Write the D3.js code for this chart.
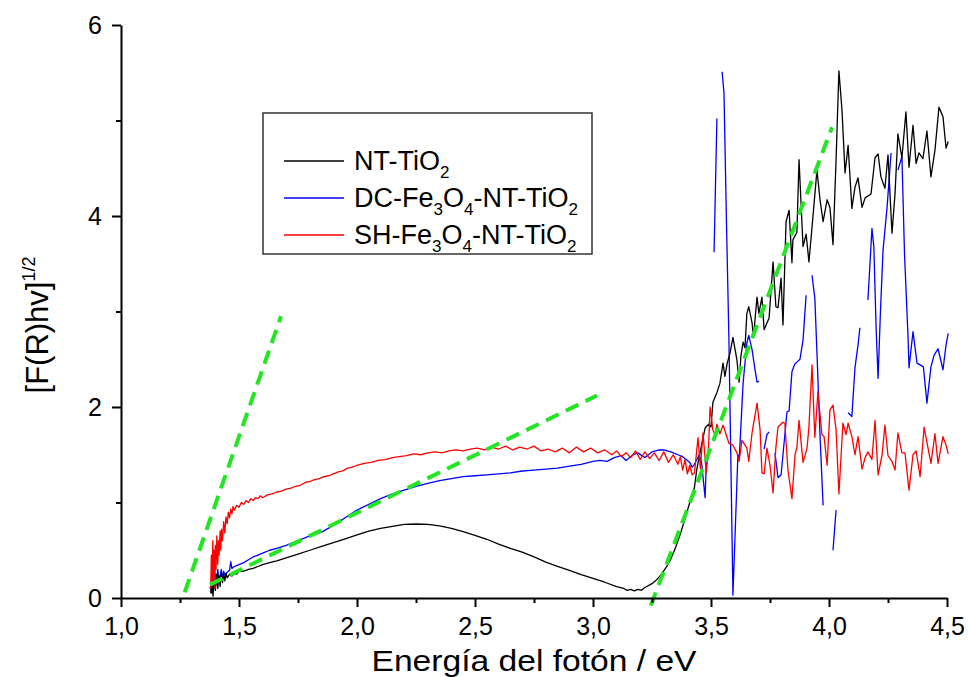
<!DOCTYPE html>
<html>
<head>
<meta charset="utf-8">
<script src="https://cdn.jsdelivr.net/npm/d3@7/dist/d3.min.js"></script>
<style>
  html, body { margin: 0; padding: 0; background: #fff; }
  svg { display: block; }
  text { font-family: "Liberation Sans", Arial, sans-serif; fill: #000; }
</style>
</head>
<body>
<svg id="chart" width="970" height="677"></svg>
<script>
// ---------------- DATA ----------------
const xMajorTicks = [1.0, 1.5, 2.0, 2.5, 3.0, 3.5, 4.0, 4.5];
const xMinorTicks = [1.25, 1.75, 2.25, 2.75, 3.25, 3.75, 4.25];
const yMajorTicks = [0, 2, 4, 6];
const yMinorTicks = [1, 3, 5];
const xTitle = "Energía del fotón / eV";
const yTitleMain = "[F(R)hv]";
const yTitleSup = "1/2";

const seriesNames = ["NT-TiO2", "DC-Fe3O4-NT-TiO2", "SH-Fe3O4-NT-TiO2"];
const legendParts = [
  [["NT-TiO", ""], ["2", "sub"]],
  [["DC-Fe", ""], ["3", "sub"], ["O", ""], ["4", "sub"], ["-NT-TiO", ""], ["2", "sub"]],
  [["SH-Fe", ""], ["3", "sub"], ["O", ""], ["4", "sub"], ["-NT-TiO", ""], ["2", "sub"]]
];
const seriesColors = ["#000000", "#0000ff", "#ff0000"];

// NT-TiO2 (black)
const ntTiO2 = [
  [1.380,0.05],[1.385,0.18],[1.390,0.02],[1.395,0.22],[1.400,0.08],[1.405,0.25],[1.410,0.10],
  [1.415,0.24],[1.420,0.12],[1.425,0.27],[1.430,0.16],[1.435,0.25],[1.440,0.18],[1.445,0.26],
  [1.450,0.21],[1.460,0.25],[1.470,0.23],[1.480,0.26],[1.490,0.25],[1.500,0.28],[1.520,0.28],
  [1.540,0.30],[1.560,0.31],[1.580,0.33],[1.600,0.35],[1.630,0.37],[1.660,0.39],[1.700,0.42],
  [1.750,0.46],[1.800,0.50],[1.850,0.54],[1.900,0.58],[1.950,0.62],[2.000,0.66],[2.050,0.70],
  [2.100,0.73],[2.150,0.75],[2.200,0.77],[2.250,0.775],[2.300,0.77],[2.350,0.755],[2.400,0.73],
  [2.450,0.695],[2.500,0.655],[2.550,0.615],[2.600,0.565],[2.650,0.52],[2.700,0.48],[2.750,0.43],
  [2.800,0.375],[2.850,0.33],[2.900,0.29],[2.950,0.245],[3.000,0.205],[3.050,0.165],[3.100,0.12],
  [3.130,0.10],[3.145,0.08],[3.160,0.09],[3.175,0.075],[3.190,0.09],[3.205,0.08],[3.220,0.11],
  [3.250,0.15],[3.270,0.19],[3.290,0.25],[3.310,0.32],[3.330,0.41],[3.350,0.53],[3.370,0.67],
  [3.390,0.83],[3.410,1.00],[3.430,1.16],[3.440,1.35],[3.460,1.60],[3.475,1.78],[3.490,1.82],
  [3.500,1.79],[3.508,2.05],[3.525,2.15],[3.538,2.25],[3.551,2.46],[3.559,2.32],[3.568,2.45],
  [3.581,2.57],[3.593,2.73],[3.610,2.49],[3.619,2.26],[3.627,2.54],[3.636,2.68],[3.644,2.62],
  [3.652,2.98],[3.660,3.05],[3.674,2.88],[3.680,2.73],[3.695,3.15],[3.703,2.98],[3.716,3.15],
  [3.725,2.81],[3.737,2.88],[3.746,2.93],[3.763,3.52],[3.775,3.05],[3.784,3.04],[3.797,3.35],
  [3.805,2.86],[3.818,3.94],[3.831,4.06],[3.843,3.51],[3.847,3.75],[3.864,3.83],[3.873,4.59],
  [3.890,3.68],[3.903,3.81],[3.915,3.52],[3.928,3.88],[3.949,4.48],[3.962,4.17],[3.975,3.94],
  [3.992,4.17],[4.004,4.09],[4.017,3.70],[4.030,4.59],[4.042,5.52],[4.055,5.11],[4.068,4.45],
  [4.081,4.74],[4.097,4.08],[4.110,4.30],[4.123,4.40],[4.140,4.09],[4.153,4.19],[4.178,4.23],
  [4.195,4.61],[4.208,4.65],[4.220,4.41],[4.237,4.29],[4.250,4.64],[4.267,3.82],[4.280,4.24],
  [4.292,4.86],[4.309,4.61],[4.326,5.09],[4.339,4.51],[4.356,4.95],[4.369,4.55],[4.381,4.66],
  [4.398,4.60],[4.415,4.89],[4.432,4.41],[4.449,4.69],[4.466,5.14],[4.483,5.04],[4.496,4.71],
  [4.505,4.78]
];

// DC-Fe3O4-NT-TiO2 (blue); null = gap in the recorded curve
const dcFe3O4 = [
  [1.377,0.12],[1.385,0.05],[1.390,0.20],[1.395,0.10],[1.400,0.25],[1.405,0.15],[1.410,0.30],
  [1.415,0.18],[1.420,0.22],[1.425,0.30],[1.430,0.20],[1.435,0.28],[1.440,0.24],[1.450,0.27],
  [1.460,0.29],[1.465,0.38],[1.470,0.31],[1.480,0.33],[1.490,0.34],[1.500,0.35],[1.520,0.37],
  [1.540,0.40],[1.560,0.43],[1.580,0.45],[1.600,0.47],[1.630,0.50],[1.660,0.52],[1.700,0.55],
  [1.750,0.60],[1.800,0.65],[1.850,0.69],[1.900,0.76],[1.950,0.84],[2.000,0.92],[2.050,0.98],
  [2.100,1.04],[2.150,1.09],[2.200,1.13],[2.250,1.17],[2.300,1.20],[2.350,1.23],[2.400,1.25],
  [2.450,1.27],[2.500,1.28],[2.550,1.29],[2.600,1.30],[2.650,1.31],[2.700,1.33],[2.750,1.34],
  [2.800,1.35],[2.850,1.36],[2.900,1.38],[2.950,1.40],[3.000,1.43],[3.030,1.44],[3.060,1.43],
  [3.090,1.47],[3.120,1.49],[3.140,1.44],[3.170,1.50],[3.190,1.52],[3.220,1.47],[3.250,1.53],
  [3.280,1.55],[3.300,1.55],[3.330,1.53],[3.360,1.50],[3.380,1.48],[3.400,1.44],[3.410,1.42],
  [3.420,1.37],[3.430,1.40],[3.440,1.45],[3.450,1.50],[3.460,1.42],[3.475,1.05],[3.480,1.40],
  [3.490,1.48], null,
  [3.513,3.62],[3.525,5.02], null,
  [3.547,5.51],[3.555,5.29],[3.565,4.00],[3.576,2.70],[3.585,1.30],[3.593,0.03],[3.604,0.80],
  [3.614,1.50],[3.620,1.47],[3.636,2.25],[3.652,2.67],[3.660,2.75],[3.674,2.60],[3.686,2.40],
  [3.695,2.26],[3.703,2.27], null,
  [3.725,1.56],[3.737,1.71],[3.746,1.74], null,
  [3.771,1.52],[3.784,1.26],[3.797,1.29],[3.805,1.50],[3.822,1.95],[3.831,1.96],[3.843,2.37],
  [3.855,2.45],[3.864,2.47],[3.877,2.50],[3.890,2.70],[3.903,3.17], null,
  [3.928,3.38],[3.940,3.14],[3.950,2.50],[3.962,1.70],[3.975,0.97], null,
  [4.017,0.50],[4.030,0.92], null,
  [4.081,1.94],[4.097,1.90],[4.110,2.41],[4.123,2.65],[4.131,2.83], null,
  [4.165,3.12],[4.182,3.87],[4.190,3.68],[4.200,2.80],[4.208,2.30],[4.218,3.00],[4.229,3.64],
  [4.246,4.09],[4.263,4.66], null,
  [4.292,4.48],[4.309,4.62],[4.320,3.60],[4.335,2.73],[4.339,2.41],[4.356,2.79],[4.373,2.46],
  [4.400,2.42],[4.415,2.04],[4.432,2.42],[4.445,2.54],[4.462,2.61],[4.483,2.39],[4.496,2.65],
  [4.505,2.77]
];

// SH-Fe3O4-NT-TiO2 (red)
const shFe3O4 = [
  [1.380,0.10],[1.383,0.45],[1.386,0.15],[1.389,0.60],[1.392,0.20],[1.395,0.50],[1.398,0.10],
  [1.400,0.55],[1.403,0.30],[1.406,0.65],[1.410,0.35],[1.413,0.60],[1.416,0.45],[1.420,0.70],
  [1.423,0.50],[1.426,0.72],[1.430,0.60],[1.435,0.80],[1.440,0.68],[1.445,0.85],[1.450,0.78],
  [1.455,0.90],[1.460,0.84],[1.465,0.93],[1.470,0.88],[1.475,0.96],[1.480,0.92],[1.490,0.97],
  [1.500,0.95],[1.510,1.00],[1.520,0.98],[1.530,1.02],[1.540,1.00],[1.550,1.04],[1.560,1.02],
  [1.570,1.05],[1.580,1.04],[1.590,1.07],[1.600,1.05],[1.620,1.08],[1.640,1.09],[1.660,1.11],
  [1.680,1.12],[1.700,1.14],[1.720,1.15],[1.740,1.17],[1.760,1.18],[1.780,1.21],[1.800,1.22],
  [1.820,1.24],[1.840,1.25],[1.860,1.27],[1.880,1.28],[1.900,1.30],[1.920,1.32],[1.940,1.33],
  [1.960,1.36],[1.980,1.37],[2.000,1.39],[2.030,1.41],[2.060,1.42],[2.090,1.44],[2.120,1.45],
  [2.150,1.47],[2.180,1.48],[2.210,1.49],[2.240,1.51],[2.270,1.50],[2.300,1.52],[2.330,1.53],
  [2.360,1.52],[2.390,1.54],[2.420,1.55],[2.450,1.54],[2.480,1.56],[2.510,1.57],[2.540,1.55],
  [2.570,1.58],[2.600,1.56],[2.630,1.59],[2.660,1.55],[2.690,1.58],[2.720,1.56],[2.750,1.59],
  [2.780,1.54],[2.810,1.56],[2.840,1.53],[2.870,1.57],[2.900,1.52],[2.930,1.58],[2.960,1.53],
  [2.990,1.57],[3.020,1.52],[3.050,1.55],[3.080,1.50],[3.100,1.54],[3.120,1.48],[3.140,1.52],
  [3.160,1.47],[3.180,1.54],[3.200,1.45],[3.220,1.53],[3.240,1.46],[3.260,1.52],[3.280,1.44],
  [3.300,1.53],[3.320,1.42],[3.340,1.50],[3.360,1.40],[3.370,1.48],[3.380,1.34],[3.390,1.45],
  [3.400,1.30],[3.410,1.39],[3.420,1.29],[3.430,1.31],[3.445,1.68],[3.455,1.35],[3.466,1.73],
  [3.480,1.31],[3.490,1.60],[3.496,2.00],[3.508,1.76],[3.517,1.71],[3.525,1.82],[3.538,1.72],
  [3.551,1.81],[3.563,1.72],[3.576,1.62],[3.593,1.60],[3.610,1.52],[3.619,1.43],[3.631,1.65],
  [3.644,1.60],[3.652,1.57],[3.660,1.43],[3.674,1.73],[3.695,2.04],[3.708,1.76],[3.716,1.31],
  [3.725,1.30],[3.737,1.57],[3.750,1.39],[3.763,1.10],[3.775,1.58],[3.784,1.79],[3.805,1.84],
  [3.813,1.83],[3.826,1.34],[3.843,1.04],[3.856,1.50],[3.864,1.58],[3.873,1.86],[3.890,1.42],
  [3.907,1.57],[3.915,1.79],[3.928,2.44],[3.940,1.68],[3.953,2.16],[3.970,1.71],[3.979,1.69],
  [3.992,1.39],[4.004,1.97],[4.017,2.02],[4.030,1.76],[4.042,1.09],[4.059,1.83],[4.072,1.71],
  [4.081,1.83],[4.097,1.69],[4.110,1.50],[4.123,1.69],[4.140,1.35],[4.153,1.47],[4.165,1.53],
  [4.182,1.45],[4.195,1.86],[4.208,1.29],[4.225,1.50],[4.237,1.81],[4.250,1.49],[4.267,1.43],
  [4.280,1.34],[4.292,1.73],[4.309,1.52],[4.322,1.52],[4.339,1.13],[4.356,1.50],[4.369,1.54],
  [4.386,1.27],[4.403,1.79],[4.415,1.63],[4.432,1.41],[4.449,1.72],[4.462,1.41],[4.483,1.69],
  [4.496,1.60],[4.505,1.51]
];

// Tangent (band-gap) fit lines, green dashed
const fitLines = [
  [[1.270, 0.06], [1.678, 2.95]],
  [[1.377, 0.14], [3.017, 2.12]],
  [[3.245, -0.08], [4.013, 4.93]]
];

// ---------------- CHART ----------------
const svg = d3.select("#chart");
const x = d3.scaleLinear().domain([1.0, 4.5]).range([121, 947]);
const y = d3.scaleLinear().domain([0, 6]).range([598, 25]);

const fontFamily = '"Liberation Sans", Arial, sans-serif';

const line = d3.line()
  .defined(d => d !== null)
  .x(d => x(d[0]))
  .y(d => y(d[1]));

const series = [dcFe3O4, ntTiO2, shFe3O4];
const seriesCol = [seriesColors[1], seriesColors[0], seriesColors[2]];
svg.append("g").selectAll("path").data(series).join("path")
  .attr("d", d => line(d))
  .attr("fill", "none")
  .attr("stroke", (d, i) => seriesCol[i])
  .attr("stroke-width", 1.3)
  .attr("stroke-linejoin", "round");

svg.append("g").selectAll("path").data(fitLines).join("path")
  .attr("d", d => line(d))
  .attr("fill", "none")
  .attr("stroke", "#22e622")
  .attr("stroke-width", 4)
  .attr("stroke-dasharray", "14,8");

// axes
const fmt = d => d.toFixed(1).replace(".", ",");
const gx = svg.append("g").attr("transform", `translate(0,${y(0)})`);
gx.call(d3.axisBottom(x).tickValues(xMajorTicks).tickFormat(fmt).tickSize(9).tickSizeOuter(0).tickPadding(10));
const gxm = svg.append("g").attr("transform", `translate(0,${y(0)})`);
gxm.call(d3.axisBottom(x).tickValues(xMinorTicks).tickFormat("").tickSize(5).tickSizeOuter(0));
gxm.select(".domain").remove();

const gy = svg.append("g").attr("transform", `translate(${x(1)},0)`);
gy.call(d3.axisLeft(y).tickValues(yMajorTicks).tickFormat(d3.format("d")).tickSize(9).tickSizeOuter(0).tickPadding(10));
const gym = svg.append("g").attr("transform", `translate(${x(1)},0)`);
gym.call(d3.axisLeft(y).tickValues(yMinorTicks).tickFormat("").tickSize(5).tickSizeOuter(0));
gym.select(".domain").remove();

svg.selectAll(".domain, .tick line").attr("stroke", "#000").attr("stroke-width", 2);
svg.selectAll(".tick text").attr("font-family", fontFamily).attr("font-size", 25).attr("fill", "#000");

// axis titles
svg.append("text")
  .attr("x", 534).attr("y", 671)
  .attr("text-anchor", "middle")
  .attr("font-family", fontFamily)
  .attr("font-size", 30)
  .attr("textLength", 325)
  .attr("lengthAdjust", "spacingAndGlyphs")
  .text(xTitle);

const yt = svg.append("text")
  .attr("transform", "translate(48,325) rotate(-90)")
  .attr("text-anchor", "middle")
  .attr("font-family", fontFamily)
  .attr("font-size", 31);
yt.append("tspan").text(yTitleMain);
yt.append("tspan").attr("font-size", 18).attr("dy", -13).text(yTitleSup);

// legend
const lg = svg.append("g");
lg.append("rect")
  .attr("x", 263).attr("y", 113).attr("width", 329).attr("height", 141)
  .attr("fill", "#fff").attr("stroke", "#333").attr("stroke-width", 1.5);
const legendY = [161, 198, 235];
legendParts.forEach((parts, i) => {
  lg.append("line")
    .attr("x1", 284).attr("x2", 344)
    .attr("y1", legendY[i]).attr("y2", legendY[i])
    .attr("stroke", seriesColors[i]).attr("stroke-width", 1.3);
  const t = lg.append("text")
    .attr("x", 354).attr("y", legendY[i] + 9)
    .attr("font-family", fontFamily)
    .attr("font-size", 27);
  let lowered = false;
  parts.forEach(([s, kind]) => {
    const ts = t.append("tspan").text(s);
    if (kind === "sub" && !lowered) { ts.attr("font-size", 17).attr("dy", 8); lowered = true; }
    else if (kind === "sub") { ts.attr("font-size", 17); }
    else if (lowered) { ts.attr("dy", -8); lowered = false; }
  });
});
</script>
</body>
</html>
